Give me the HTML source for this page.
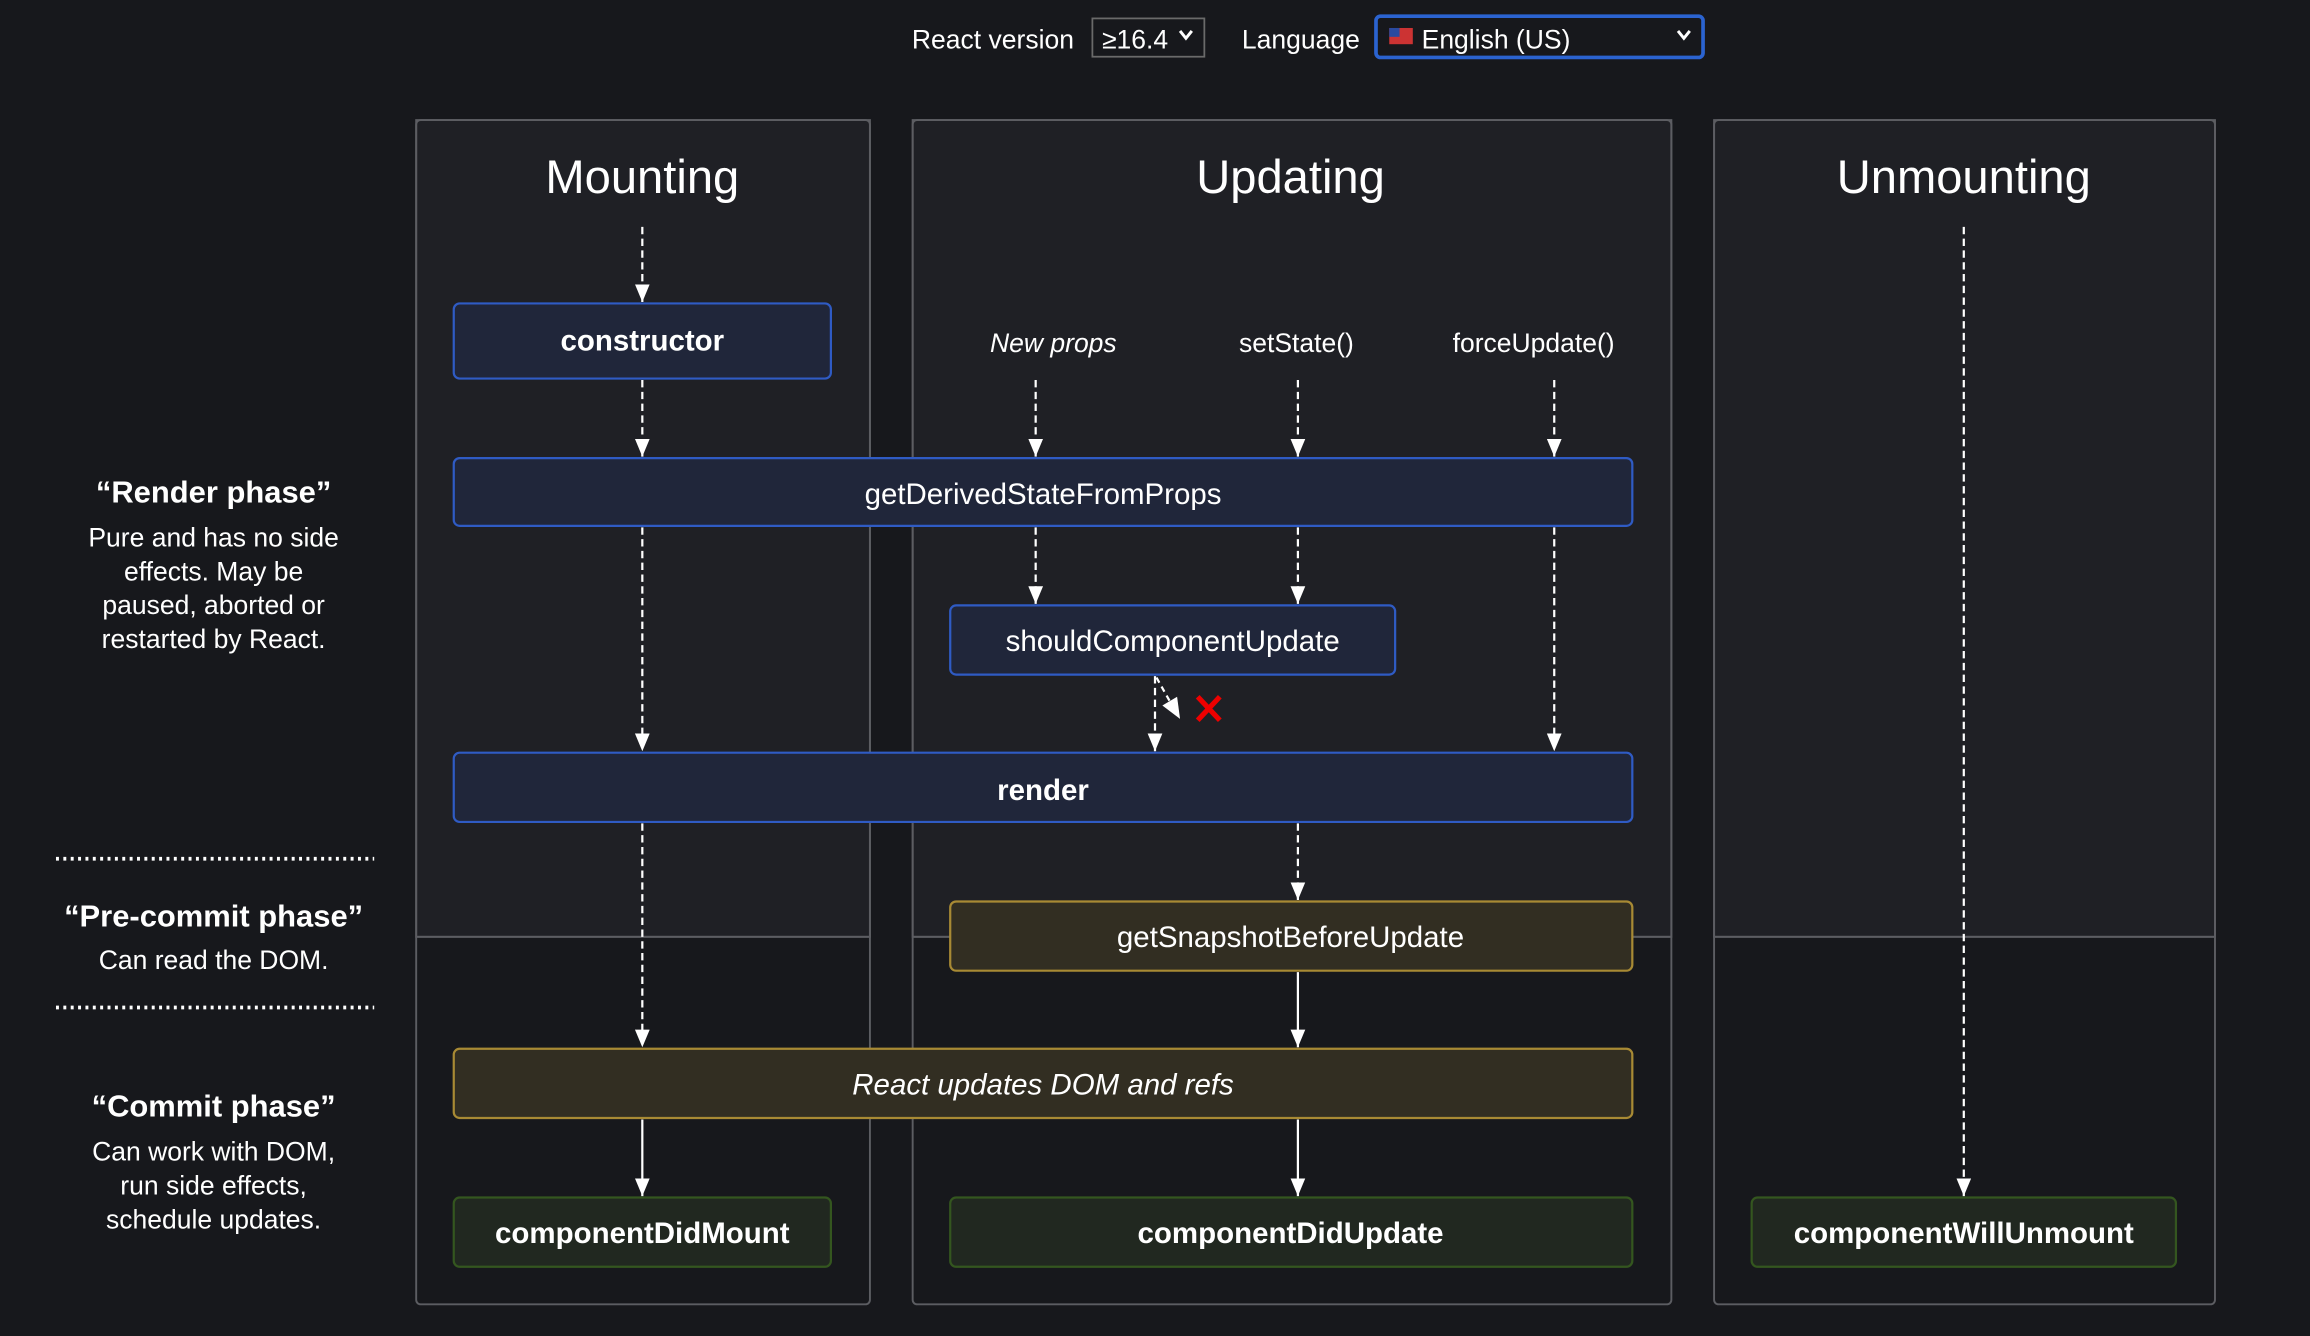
<!DOCTYPE html>
<html><head><meta charset="utf-8"><style>
html,body{margin:0;padding:0;background:#17181c;width:2310px;height:1336px;overflow:hidden}
svg{display:block}
text{font-family:"Liberation Sans",sans-serif;fill:#fff}
</style></head><body>
<svg width="2310" height="1336" viewBox="0 0 1568 907" preserveAspectRatio="none" xmlns="http://www.w3.org/2000/svg">
<defs>
<marker id="ah" markerWidth="12" markerHeight="10" refX="12" refY="5" orient="auto" markerUnits="userSpaceOnUse" viewBox="0 0 12 10">
<path d="M0,0 L12,5 L0,10 Z" fill="#fff"/>
</marker>
</defs>
<rect width="1568" height="907" fill="#17181c"/>

<!-- top bar -->
<text x="619" y="33" font-size="18">React version</text>
<rect x="741.5" y="12.5" width="76" height="26" fill="#17181c" stroke="#6a6a6a" stroke-width="1.2"/>
<text x="748" y="33" font-size="18">≥16.4</text>
<path d="M801,21 l4,5 l4,-5" stroke="#fff" stroke-width="2" fill="none"/>
<text x="843" y="33" font-size="18">Language</text>
<rect x="934" y="11" width="222" height="28" rx="3" fill="#17181c" stroke="#2b63d0" stroke-width="2.5"/>
<rect x="943" y="19" width="16" height="11" fill="#c33"/>
<rect x="943" y="19" width="7" height="6" fill="#2a4aa0"/>
<text x="965" y="33" font-size="18">English (US)</text>
<path d="M1139,21 l4,5 l4,-5" stroke="#fff" stroke-width="2" fill="none"/>

<!-- columns -->
<g stroke="#5c5d62" stroke-width="1.3">
<path d="M282.5,636 V81.5 H590.5 V636 Z" fill="#1f2025"/>
<rect x="282.5" y="81.5" width="308" height="804" rx="3" fill="none"/>
<line x1="282" y1="636" x2="590" y2="636"/>
<path d="M619.5,636 V81.5 H1134.5 V636 Z" fill="#1f2025"/>
<rect x="619.5" y="81.5" width="515" height="804" rx="3" fill="none"/>
<line x1="619" y1="636" x2="1134" y2="636"/>
<path d="M1163.5,636 V81.5 H1503.5 V636 Z" fill="#1f2025"/>
<rect x="1163.5" y="81.5" width="340" height="804" rx="3" fill="none"/>
<line x1="1163" y1="636" x2="1503" y2="636"/>
</g>
<text x="436" y="131" font-size="32" text-anchor="middle">Mounting</text>
<text x="876" y="131" font-size="32" text-anchor="middle">Updating</text>
<text x="1333" y="131" font-size="32" text-anchor="middle">Unmounting</text>

<!-- left labels -->
<g text-anchor="middle">
<text x="145" y="341" font-size="21" font-weight="bold" stroke="#fff" stroke-width="0" style="font-weight:600">“Render phase”</text>
<text x="145" y="371" font-size="18">Pure and has no side</text>
<text x="145" y="394" font-size="18">effects. May be</text>
<text x="145" y="417" font-size="18">paused, aborted or</text>
<text x="145" y="440" font-size="18">restarted by React.</text>
<text x="145" y="629" font-size="21" font-weight="bold">“Pre-commit phase”</text>
<text x="145" y="658" font-size="18">Can read the DOM.</text>
<text x="145" y="758" font-size="21" font-weight="bold">“Commit phase”</text>
<text x="145" y="788" font-size="18">Can work with DOM,</text>
<text x="145" y="811" font-size="18">run side effects,</text>
<text x="145" y="834" font-size="18">schedule updates.</text>
</g>
<g stroke="#fff" stroke-width="2.5" stroke-dasharray="2,3">
<line x1="38" y1="583" x2="254" y2="583"/>
<line x1="38" y1="684" x2="254" y2="684"/>
</g>

<!-- boxes -->
<g stroke-width="1.5">
<rect x="308" y="206" width="256" height="51" rx="4" fill="#20263a" stroke="#2f5bc4"/>
<rect x="308" y="311" width="800" height="46" rx="4" fill="#20263a" stroke="#2f5bc4"/>
<rect x="645" y="411" width="302" height="47" rx="4" fill="#20263a" stroke="#2f5bc4"/>
<rect x="308" y="511" width="800" height="47" rx="4" fill="#20263a" stroke="#2f5bc4"/>
<rect x="645" y="612" width="463" height="47" rx="4" fill="#322e22" stroke="#a88a34"/>
<rect x="308" y="712" width="800" height="47" rx="4" fill="#322e22" stroke="#a88a34"/>
<rect x="308" y="813" width="256" height="47" rx="4" fill="#212820" stroke="#34561f"/>
<rect x="645" y="813" width="463" height="47" rx="4" fill="#212820" stroke="#34561f"/>
<rect x="1189" y="813" width="288" height="47" rx="4" fill="#212820" stroke="#34561f"/>
</g>
<g text-anchor="middle" font-size="20">
<text x="436" y="238" font-weight="bold">constructor</text>
<text x="708" y="342">getDerivedStateFromProps</text>
<text x="796" y="442">shouldComponentUpdate</text>
<text x="708" y="543" font-weight="bold">render</text>
<text x="876" y="643">getSnapshotBeforeUpdate</text>
<text x="708" y="743" font-style="italic">React updates DOM and refs</text>
<text x="436" y="844" font-weight="bold">componentDidMount</text>
<text x="876" y="844" font-weight="bold">componentDidUpdate</text>
<text x="1333" y="844" font-weight="bold">componentWillUnmount</text>
<text x="715" y="239" font-size="18" font-style="italic">New props</text>
<text x="880" y="239" font-size="18">setState()</text>
<text x="1041" y="239" font-size="18">forceUpdate()</text>
</g>

<!-- arrows -->
<g stroke="#fff" stroke-width="1.5" fill="none" marker-end="url(#ah)">
<g stroke-dasharray="5,3">
<line x1="436" y1="154" x2="436" y2="205"/>
<line x1="436" y1="258" x2="436" y2="310"/>
<line x1="436" y1="358" x2="436" y2="510"/>
<line x1="436" y1="559" x2="436" y2="711"/>
<line x1="703" y1="258" x2="703" y2="310"/>
<line x1="703" y1="358" x2="703" y2="410"/>
<line x1="881" y1="258" x2="881" y2="310"/>
<line x1="881" y1="358" x2="881" y2="410"/>
<line x1="1055" y1="258" x2="1055" y2="310"/>
<line x1="1055" y1="358" x2="1055" y2="510"/>
<line x1="784" y1="459" x2="784" y2="510"/>
<line x1="881" y1="559" x2="881" y2="611"/>
<line x1="1333" y1="154" x2="1333" y2="812"/>
</g>
<line x1="436" y1="760" x2="436" y2="812"/>
<line x1="881" y1="660" x2="881" y2="711"/>
<line x1="881" y1="760" x2="881" y2="812"/>
</g>
<line x1="785" y1="460" x2="794" y2="476" stroke="#fff" stroke-width="1.5" stroke-dasharray="4,3"/>
<path d="M789,479 L801,488 L799,473 Z" fill="#fff"/>
<g stroke="#e00" stroke-width="3.5">
<line x1="813" y1="473" x2="828" y2="489"/>
<line x1="828" y1="473" x2="813" y2="489"/>
</g>
</svg>
</body></html>
